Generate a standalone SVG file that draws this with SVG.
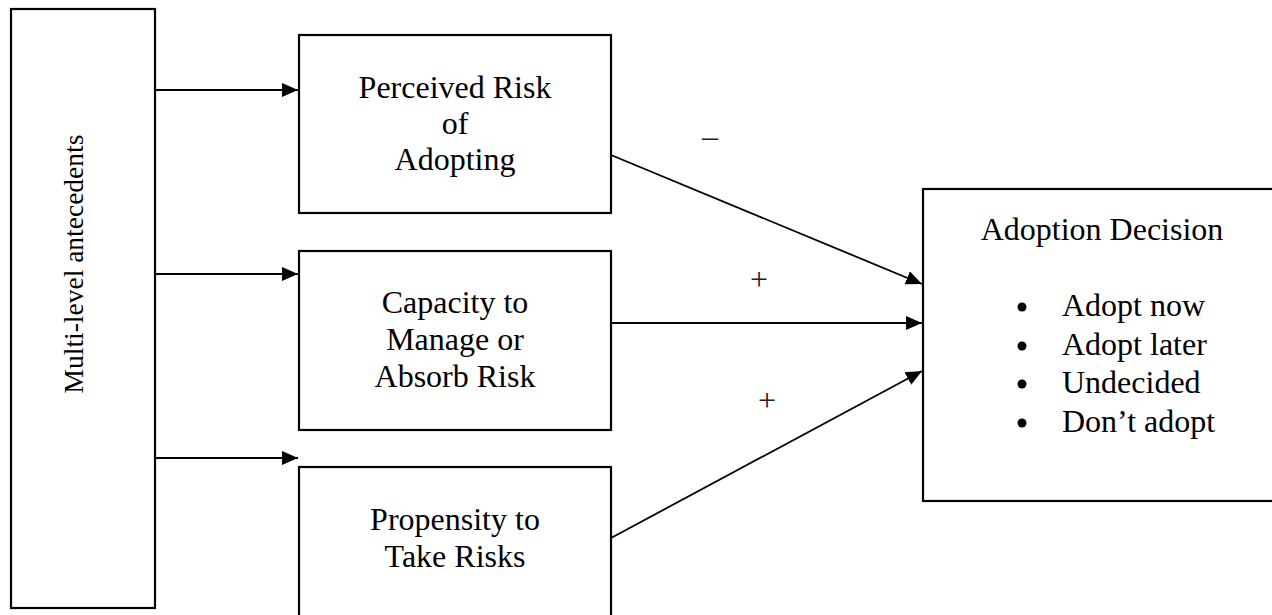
<svg xmlns="http://www.w3.org/2000/svg" width="1272" height="615" viewBox="0 0 1272 615">
<defs>
<style>
.box{fill:#fff;stroke:#000;stroke-width:2.2}
.t{font-family:"Liberation Serif","Times New Roman",serif;font-size:32px;fill:#000}
.c{text-anchor:middle}
.conn line{stroke:#000;stroke-width:1.8;marker-end:url(#ah)}
.sign{font-family:"Liberation Serif","Times New Roman",serif;font-size:32px;fill:#222;text-anchor:middle}
</style>
<marker id="ah" markerUnits="userSpaceOnUse" markerWidth="16" markerHeight="14" refX="16" refY="7" orient="auto">
<path d="M0,0 L16,7 L0,14 z" fill="#000"/>
</marker>
</defs>
<rect width="1272" height="615" fill="#fff"/>
<g id="antecedents">
<rect class="box" x="11" y="9" width="144" height="599"/>
<text class="t c" style="font-size:27.5px" transform="translate(83,264) rotate(-90)">Multi-level antecedents</text>
</g>
<g id="perceived-risk">
<rect class="box" x="299" y="35" width="312" height="178"/>
<text class="t c" x="455" y="98">Perceived Risk</text>
<text class="t c" x="455" y="134">of</text>
<text class="t c" x="455" y="170">Adopting</text>
</g>
<g id="capacity">
<rect class="box" x="299" y="251" width="312" height="179"/>
<text class="t c" x="455" y="313">Capacity to</text>
<text class="t c" x="455" y="350">Manage or</text>
<text class="t c" x="455" y="387">Absorb Risk</text>
</g>
<g id="propensity">
<rect class="box" x="299" y="467" width="312" height="170"/>
<text class="t c" x="455" y="530">Propensity to</text>
<text class="t c" x="455" y="567">Take Risks</text>
</g>
<g id="adoption-decision">
<rect class="box" x="923" y="189" width="380" height="312"/>
<text class="t c" x="1102" y="240">Adoption Decision</text>
<g class="t">
<circle cx="1022" cy="307" r="4.5"/>
<circle cx="1022" cy="346" r="4.5"/>
<circle cx="1022" cy="384" r="4.5"/>
<circle cx="1022" cy="423" r="4.5"/>
<text x="1062" y="316">Adopt now</text>
<text x="1062" y="355">Adopt later</text>
<text x="1062" y="393">Undecided</text>
<text x="1062" y="432">Don’t adopt</text>
</g>
</g>
<g id="connectors" class="conn">
<line x1="155" y1="90" x2="298" y2="90"/>
<line x1="155" y1="274" x2="298" y2="274"/>
<line x1="155" y1="458" x2="298" y2="458"/>
<line x1="611" y1="155" x2="922" y2="284"/>
<line x1="611" y1="323" x2="922" y2="323"/>
<line x1="611" y1="538" x2="922" y2="371"/>
</g>
<g id="signs">
<text class="sign" x="710" y="147">–</text>
<text class="sign" x="759" y="290">+</text>
<text class="sign" x="767" y="411">+</text>
</g>
</svg>
